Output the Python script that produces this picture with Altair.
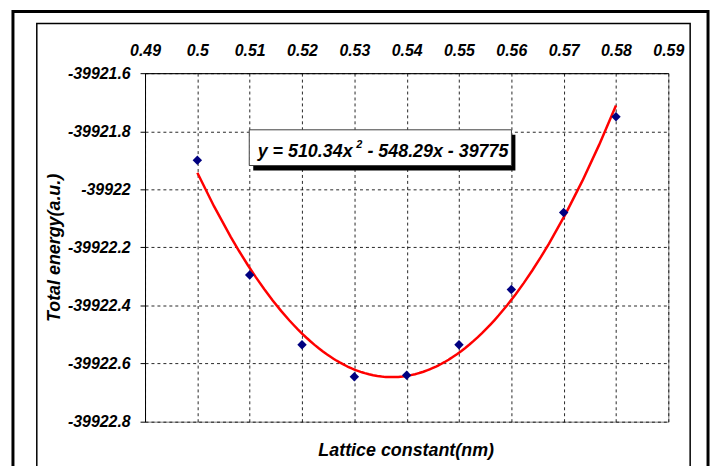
import altair as alt
import pandas as pd

# ---- data ----
lattice = [0.50, 0.51, 0.52, 0.53, 0.54, 0.55, 0.56, 0.57, 0.58]
energy = [-39921.90, -39922.295, -39922.535, -39922.645, -39922.64,
          -39922.535, -39922.345, -39922.08, -39921.75]
x_ticks = [0.49, 0.50, 0.51, 0.52, 0.53, 0.54, 0.55, 0.56, 0.57, 0.58, 0.59]
y_ticks = [-39921.6, -39921.8, -39922.0, -39922.2, -39922.4, -39922.6, -39922.8]

# trendline equation label (pieces: main, superscript, rest) in data units
eq_parts = ["y = 510.34x", "2", "- 548.29x - 39775"]
eq_part_x = [0.52966, 0.53093, 0.53250]
eq_part_y = [-39921.889, -39921.859, -39921.889]
eq_box_x = [0.50992, 0.56002]
eq_box_y = [-39921.795, -39921.918]

x_title = "Lattice constant(nm)"
y_title = "Total energy(a.u.)"

FONT = "Liberation Sans"

df = pd.DataFrame({"x": lattice, "y": energy})
box_df = pd.DataFrame({"x": [eq_box_x[0]], "x2": [eq_box_x[1]],
                       "y": [eq_box_y[0]], "y2": [eq_box_y[1]]})
one = pd.DataFrame({"k": [0]})

xs = alt.Scale(domain=[x_ticks[0], x_ticks[-1]], nice=False, zero=False)
ys = alt.Scale(domain=[y_ticks[-1], y_ticks[0]], nice=False, zero=False)

x_axis = alt.Axis(orient="top", values=x_ticks, format=".2~f", title=None,
                  ticks=False, tickSize=0, labelPadding=15, grid=True,
                  labelFlush=False, labelOverlap=False, domainColor="black")
y_axis = alt.Axis(values=y_ticks, format=".1~f", title=y_title, ticks=True,
                  labelExpr="replace(datum.label, '\u2212', '-')",
                  tickSize=5, labelPadding=10, grid=True, domainColor="black",
                  labelFlush=False, labelOverlap=False,
                  titleFont=FONT, titleFontSize=18, titleFontWeight="bold",
                  titleFontStyle="italic", titlePadding=4, titleColor="black")

points = alt.Chart(df).mark_point(shape="diamond", filled=True, size=90,
                                  color="#000080", opacity=1).encode(
    x=alt.X("x:Q", scale=xs, axis=x_axis),
    y=alt.Y("y:Q", scale=ys, axis=y_axis),
)

trend = alt.Chart(df).transform_regression(
    "x", "y", method="poly", order=2, extent=[0.50, 0.58]
).mark_line(color="#FF0000", strokeWidth=2.5).encode(
    x=alt.X("x:Q", scale=xs),
    y=alt.Y("y:Q", scale=ys),
)

shadow = alt.Chart(box_df).mark_rect(color="black", xOffset=4, yOffset=5,
                                     x2Offset=4, y2Offset=5).encode(
    x=alt.X("x:Q", scale=xs), x2="x2:Q",
    y=alt.Y("y:Q", scale=ys), y2="y2:Q",
)
box = alt.Chart(box_df).mark_rect(fill="white", stroke="#404040",
                                  strokeWidth=1).encode(
    x=alt.X("x:Q", scale=xs), x2="x2:Q",
    y=alt.Y("y:Q", scale=ys), y2="y2:Q",
)


def eq_piece(i, align, size):
    d = pd.DataFrame({"x": [eq_part_x[i]], "y": [eq_part_y[i]], "t": [eq_parts[i]]})
    return alt.Chart(d).mark_text(font=FONT, fontSize=size, fontWeight="bold",
                                  fontStyle="italic", color="black", align=align,
                                  baseline="alphabetic").encode(
        x=alt.X("x:Q", scale=xs), y=alt.Y("y:Q", scale=ys), text="t:N"
    )


eq1 = eq_piece(0, "right", 18)
eq2 = eq_piece(1, "center", 11)
eq3 = eq_piece(2, "left", 18)

xt = alt.Chart(one).mark_text(font=FONT, fontSize=18, fontWeight="bold",
                              fontStyle="italic", color="black", align="center",
                              baseline="alphabetic").encode(
    x=alt.value(263), y=alt.value(386), text=alt.value(x_title)
)

outer = alt.Chart(one).mark_rect(fillOpacity=0, stroke="black",
                                 strokeWidth=3).encode(
    x=alt.value(-133), x2=alt.value(567), y=alt.value(-62), y2=alt.value(520)
)
inner = alt.Chart(one).mark_rect(fillOpacity=0, stroke="black",
                                 strokeWidth=1.5).encode(
    x=alt.value(-109), x2=alt.value(549), y=alt.value(-50), y2=alt.value(520)
)

chart = alt.layer(outer, inner, trend, points, shadow, box, eq1, eq2, eq3, xt).properties(
    width=527, height=351,
    autosize=alt.AutoSizeParams(type="none"),
    padding={"left": 138, "top": 64, "right": 44, "bottom": 43},
    background="white",
).configure_view(
    stroke="#808080", strokeWidth=1
).configure_axis(
    labelFont=FONT, labelFontSize=16, labelFontWeight="bold",
    labelFontStyle="italic", labelColor="black",
    gridColor="black", gridDash=[3, 3], gridOpacity=0.85, gridWidth=1,
    tickColor="black", domainWidth=1,
)

chart.save("out.html", embed_options={"renderer": "svg", "actions": False})
